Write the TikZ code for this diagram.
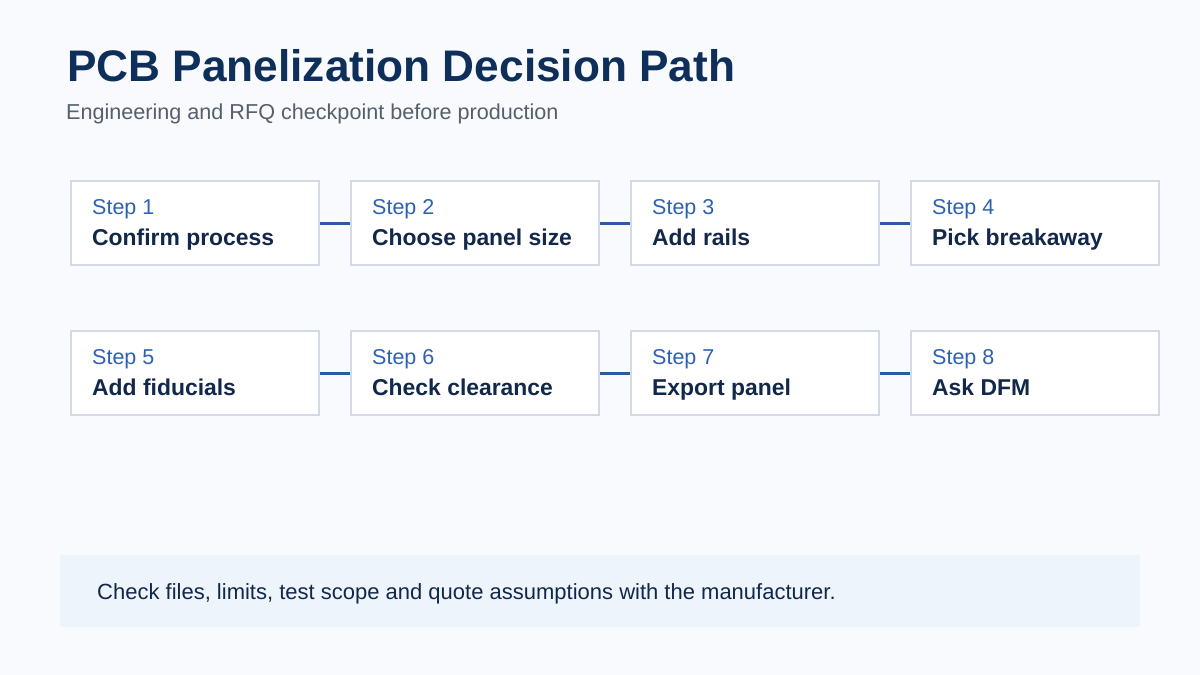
\documentclass[tikz,border=0pt]{standalone}
\usepackage{fontspec}
\setmainfont{Liberation Sans}
\definecolor{bgc}{HTML}{F8FAFD}
\definecolor{titlec}{HTML}{0E2F5A}
\definecolor{subc}{HTML}{56606C}
\definecolor{stepc}{HTML}{2D62B3}
\definecolor{namec}{HTML}{12284A}
\definecolor{boxborder}{HTML}{D3DAE3}
\definecolor{linkc}{HTML}{2A5AA8}
\definecolor{notec}{HTML}{EEF4FB}
\tikzset{
  stepbox/.style={draw=boxborder, line width=2pt, fill=white, minimum width=248pt, minimum height=84pt, inner sep=0pt, anchor=center},
  steplabel/.style={anchor=base west, inner sep=0pt, text=stepc, font=\fontsize{21.5}{25}\selectfont},
  stepname/.style={anchor=base west, inner sep=0pt, text=namec, font=\fontsize{22.9}{27}\selectfont\bfseries},
  link/.style={draw=linkc, line width=3pt},
}
\begin{document}
\begin{tikzpicture}[x=1pt,y=-1pt]
\fill[bgc] (0,0) rectangle (1200,675);
\useasboundingbox (0,0) rectangle (1200,675);
\node[anchor=base west, inner sep=0pt, text=titlec, font=\fontsize{44.2}{50}\selectfont\bfseries] (title) at (67,81) {PCB Panelization Decision Path};
\node[anchor=base west, inner sep=0pt, text=subc, font=\fontsize{21.6}{26}\selectfont] (sub) at (66,119) {Engineering and RFQ checkpoint before production};
\foreach \i/\x/\y/\t in {1/70/180/Confirm process, 2/350/180/Choose panel size, 3/630/180/Add rails, 4/910/180/Pick breakaway, 5/70/330/Add fiducials, 6/350/330/Check clearance, 7/630/330/Export panel, 8/910/330/Ask DFM}{
  \node[stepbox] (b\i) at (\x+125,\y+43) {};
  \node[steplabel] (l\i) at (\x+22,\y+34.5) {Step \i};
  \node[stepname] (n\i) at (\x+22,\y+65.5) {\t};
}
\foreach \a/\b in {1/2,2/3,3/4,5/6,6/7,7/8}{
  \draw[link] (b\a.east) -- (b\b.west);
}
\node[fill=notec, minimum width=1080pt, minimum height=72pt, inner sep=0pt, anchor=north west] (note) at (60,555) {};
\node[anchor=base west, inner sep=0pt, text=namec, font=\fontsize{22}{26}\selectfont] (notetext) at (97,599) {Check files, limits, test scope and quote assumptions with the manufacturer.};
\end{tikzpicture}
\end{document}
